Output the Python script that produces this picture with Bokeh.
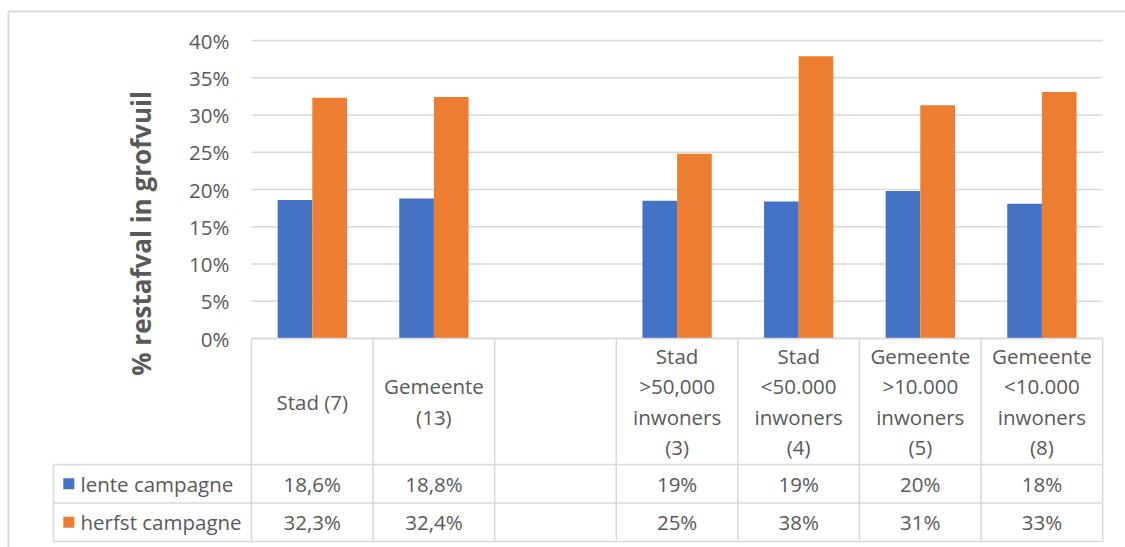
import math
from bokeh.plotting import figure
from bokeh.models import Range1d, LinearAxis, FixedTicker, PrintfTickFormatter
from bokeh.core.properties import value
from bokeh.embed import file_html
from bokeh.resources import INLINE

# ---------------- data ----------------
categories = ["Stad (7)", "Gemeente (13)", "",
              "Stad >50,000 inwoners (3)", "Stad <50.000 inwoners (4)",
              "Gemeente >10.000 inwoners (5)", "Gemeente <10.000 inwoners (8)"]
category_labels = ["Stad (7)", "Gemeente\n(13)", "",
                   "Stad\n>50,000\ninwoners\n(3)", "Stad\n<50.000\ninwoners\n(4)",
                   "Gemeente\n>10.000\ninwoners\n(5)", "Gemeente\n<10.000\ninwoners\n(8)"]
series_names = ["lente campagne", "herfst campagne"]
lente = [18.6, 18.8, None, 18.5, 18.4, 19.8, 18.1]
herfst = [32.3, 32.4, None, 24.8, 37.9, 31.3, 33.1]
lente_table = ["18,6%", "18,8%", "", "19%", "19%", "20%", "18%"]
herfst_table = ["32,3%", "32,4%", "", "25%", "38%", "31%", "33%"]
y_ticks = [0, 5, 10, 15, 20, 25, 30, 35, 40]
y_title = "% restafval in grofvuil"

# ---------------- layout ----------------
W, H = 1125, 547
PX_X0, COL = 251.0, 121.6      # pixel of first column edge, pixels per column
PX_Y0, PPU = 338.0, 7.45       # pixel of 0%, pixels per percent
BLUE, ORANGE = "#4472C4", "#ED7D31"
TXT, LINE = "#595959", "#d9d9d9"
FONT = value("Open Sans")
FS = "20.5px"

def dx(px):
    return (px - PX_X0) / COL

def dy(py):
    return (PX_Y0 - py) / PPU

p = figure(width=W, height=H, output_backend="svg", toolbar_location=None,
           x_range=Range1d(dx(0), dx(W)), y_range=Range1d(dy(H), dy(0)),
           x_axis_type=None, y_axis_type=None,
           min_border_left=0, min_border_right=0, min_border_top=0, min_border_bottom=0)
p.outline_line_color = None
p.background_fill_color = "white"
p.border_fill_color = "white"

n = len(categories)

# outer chart-area border (top and left visible)
p.segment(x0=[dx(8), dx(8)], y0=[dy(11), dy(11)], x1=[dx(W), dx(8)], y1=[dy(11), dy(H)],
          line_color=LINE, line_width=2)

# gridlines
p.segment(x0=[0] * len(y_ticks), x1=[n] * len(y_ticks), y0=y_ticks, y1=y_ticks,
          line_color=LINE, line_width=1.5)

# y axis
ax = LinearAxis(fixed_location=0, ticker=FixedTicker(ticks=y_ticks),
                formatter=PrintfTickFormatter(format="%d%%"))
ax.axis_line_color = None
ax.major_tick_line_color = None
ax.minor_tick_line_color = None
ax.major_label_standoff = 16
ax.major_label_text_font = "Open Sans"
ax.major_label_text_font_size = FS
ax.major_label_text_color = TXT
p.add_layout(ax, "left")

# bars
off, bw = 0.1425, 0.285
xl = [i + 0.5 - off for i, v in enumerate(lente) if v is not None]
yl = [v for v in lente if v is not None]
xh = [i + 0.5 + off for i, v in enumerate(herfst) if v is not None]
yh = [v for v in herfst if v is not None]
p.vbar(x=xl, top=yl, bottom=0, width=bw, fill_color=BLUE, line_color=None)
p.vbar(x=xh, top=yh, bottom=0, width=bw, fill_color=ORANGE, line_color=None)

# data table
y_head, y_r1, y_r2 = dy(464), dy(502.5), dy(541)
x_left = dx(53)
hx0 = [0, x_left, x_left, x_left]
hx1 = [n, n, n, n]
hy = [0, y_head, y_r1, y_r2]
p.segment(x0=hx0, x1=hx1, y0=hy, y1=hy, line_color=LINE, line_width=1.5)
vx = list(range(n + 1)) + [x_left]
vy0 = [0] * (n + 1) + [y_head]
vy1 = [y_r2] * (n + 2)
p.segment(x0=vx, x1=vx, y0=vy0, y1=vy1, line_color=LINE, line_width=1.5)

centers = [i + 0.5 for i in range(n)]
p.text(x=centers, y=[(0 + y_head) / 2] * n, text=category_labels,
       text_font=FONT, text_font_size=value(FS), text_color=TXT,
       text_align="center", text_baseline="middle", text_line_height=1.08)
row_y = [(y_head + y_r1) / 2, (y_r1 + y_r2) / 2]
p.text(x=centers, y=[row_y[0]] * n, text=lente_table,
       text_font=FONT, text_font_size=value(FS), text_color=TXT,
       text_align="center", text_baseline="middle")
p.text(x=centers, y=[row_y[1]] * n, text=herfst_table,
       text_font=FONT, text_font_size=value(FS), text_color=TXT,
       text_align="center", text_baseline="middle")

# row legend keys
p.scatter(x=[dx(68.3)] * 2, y=row_y, marker="square", size=11,
          fill_color=[BLUE, ORANGE], line_color=None)
p.text(x=[dx(80)] * 2, y=row_y, text=series_names,
       text_font=FONT, text_font_size=value(FS), text_color=TXT,
       text_align="left", text_baseline="middle")

# y-axis title
p.text(x=[dx(140)], y=[dy(233)], text=[y_title], angle=math.pi / 2,
       text_font=FONT, text_font_size=value("26px"), text_font_style="bold",
       text_color=TXT, text_align="center", text_baseline="middle")

open("out.html", "w").write(file_html(p, INLINE))
